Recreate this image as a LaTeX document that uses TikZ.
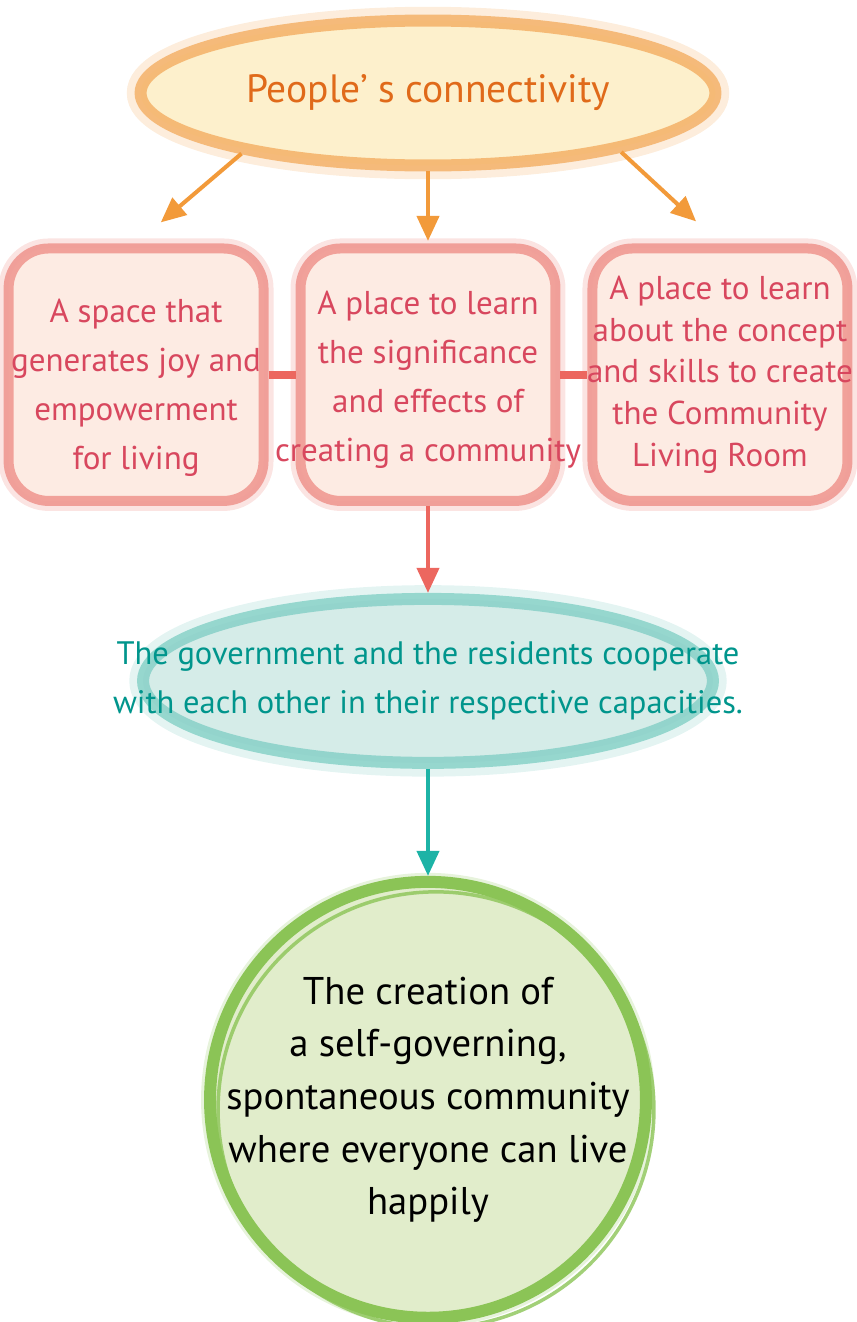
\documentclass[tikz,border=0pt]{standalone}
\usepackage{fontspec}
\setmainfont{PT Sans}
\usetikzlibrary{arrows.meta, positioning, shapes.geometric}

\definecolor{HubFill}{HTML}{FDF0CC}
\definecolor{HubLine}{HTML}{F3A95A}
\definecolor{HubText}{HTML}{E06A1A}
\definecolor{ArrowOrange}{HTML}{F29A3A}
\definecolor{BoxFill}{HTML}{FDEBE3}
\definecolor{BoxLine}{HTML}{EE8F88}
\definecolor{BoxText}{HTML}{D8475E}
\definecolor{LinkRed}{HTML}{EC675F}
\definecolor{CoopFill}{HTML}{D5ECE8}
\definecolor{CoopLine}{HTML}{7DCDC3}
\definecolor{CoopText}{HTML}{00958C}
\definecolor{ArrowTeal}{HTML}{1DB3A6}
\definecolor{GoalFill}{HTML}{E1EDCB}
\definecolor{GoalLine}{HTML}{8BC456}

\begin{document}
\begin{tikzpicture}[
    x=0.02cm, y=-0.02cm, node distance=5.4mm and 5.4mm,
    >={Triangle[length=5mm, width=4.4mm]},
    hub/.style={ellipse, draw=HubLine, fill=HubFill, line width=2.4mm, draw opacity=.75,
        preaction={draw=HubLine!70, line width=5.5mm, draw opacity=.3},
        minimum width=11.5cm, minimum height=2.9cm, inner sep=0pt,
        text=HubText, font=\fontsize{22.5}{27}\selectfont},
    box/.style={rectangle, rounded corners=8mm, draw=BoxLine, fill=BoxFill, line width=2mm, draw opacity=.8,
        preaction={draw=BoxLine!70, line width=4mm, draw opacity=.35},
        minimum width=5.1cm, minimum height=5.05cm, inner xsep=-9mm, align=center,
        text=BoxText, font=\fontsize{18.8}{28}\selectfont},
    coop/.style={ellipse, draw=CoopLine, fill=CoopFill, line width=2.4mm, draw opacity=.75,
        preaction={draw=CoopLine!70, line width=5.5mm, draw opacity=.3},
        minimum width=11.4cm, minimum height=3.28cm, inner sep=0pt},
    goal/.style={circle, draw=GoalLine, fill=GoalFill, line width=2.4mm,
        preaction={draw=GoalLine!60, line width=3.6mm, draw opacity=.35},
        postaction={draw=GoalLine, line width=0.7mm, draw opacity=.8, transform canvas={shift={(1.6mm,-2mm)}}},
        minimum size=8.72cm, inner sep=0pt},
    label text/.style={align=center, inner sep=0pt},
    link/.style={draw=LinkRed, line width=1.6mm},
    arrow/.style={->, line width=2.3pt}]
\useasboundingbox (0,0) rectangle (857,1322);

\node[hub] (people) at (428,93) {People’ s connectivity};
\node[box, below=1.44cm of people] (learn) {\rule{0pt}{19pt}A place to learn\\the significance\\and effects of\\creating a community};
\node[box, left=of learn] (space) {\rule{0pt}{28pt}A space that\\generates joy and\\empowerment\\for living};
\node[box, right=of learn, font=\fontsize{18.8}{23.8}\selectfont] (concept) {A place to learn\\about the concept\\and skills to create\\the Community\\Living Room};
\node[coop, below=1.74cm of learn] (coop) {};
\node[label text, text=CoopText, font=\fontsize{18.5}{28}\selectfont] (coopText) at (coop) {The government and the residents cooperate\\with each other in their respective capacities.};
\node[goal, below=2.14cm of coop] (goal) {};
\node[label text, font=\fontsize{22}{30}\selectfont] (goalText) at (goal) {The creation of\\a self-governing,\\spontaneous community\\where everyone can live\\happily};

\draw[arrow, ArrowOrange, shorten >=6.5mm] (people.198) -- (space.north);
\draw[arrow, ArrowOrange, shorten >=0.5mm] (people.south) -- (learn.north);
\draw[arrow, ArrowOrange, shorten >=6.5mm] (people.343) -- (concept.north);
\draw[link] (space.east) -- (learn.west);
\draw[link] (learn.east) -- (concept.west);
\draw[arrow, LinkRed] (learn.south) -- (coop.north);
\draw[arrow, ArrowTeal] (coop.south) -- (goal.north);
\end{tikzpicture}
\end{document}
